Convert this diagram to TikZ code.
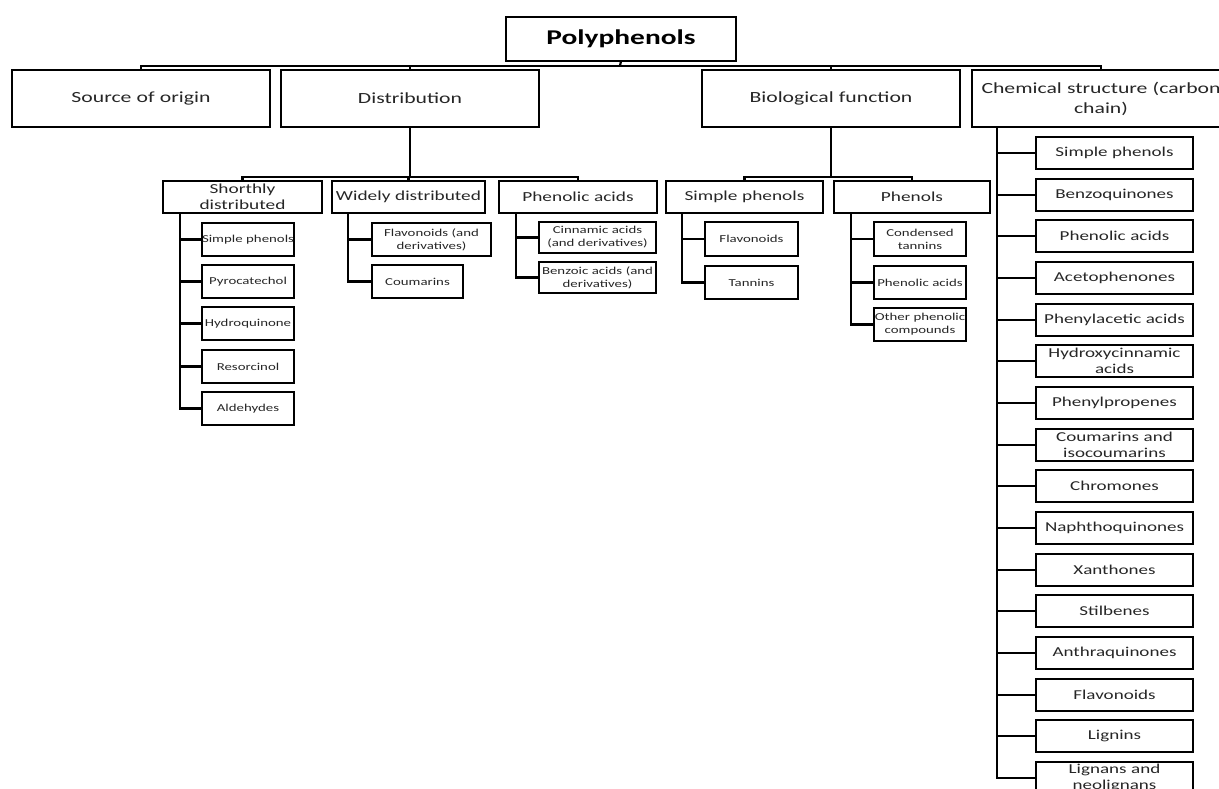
\documentclass[tikz,border=0pt]{standalone}
\usepackage{fontspec}
\setmainfont{Carlito}[FakeStretch=1.4]

\begin{document}
\begin{tikzpicture}[x=1pt,y=-1pt,
			ln/.style={draw=black,line width=2.2pt},
			bx/.style={draw=black,line width=2.2pt,text=black!85,inner sep=0pt,outer sep=0pt,align=center,anchor=north west},
			root/.style={bx,text=black,text width=230pt,minimum height=44pt,font=\fontsize{21}{25}\selectfont\bfseries},
			cat/.style={bx,text width=258pt,minimum height=57pt,font=\fontsize{15.5}{20}\selectfont},
			grp/.style={bx,minimum height=32pt,font=\fontsize{13.8}{16}\selectfont},
			leaf/.style={bx,minimum height=33pt,font=\fontsize{10.6}{12.9}\selectfont},
			chm/.style={bx,text width=157pt,minimum height=32pt,font=\fontsize{13.6}{16}\selectfont}]
			\useasboundingbox (0,0) rectangle (1219,789);
			\clip (0,0) rectangle (1219,789);
			% top
			\node[root] (poly) at (506,17) {Polyphenols};
			\node[cat] (src) at (12,70) {Source of origin};
			\node[cat] (dist) at (281,70) {Distribution};
			\node[cat] (bio) at (702,70) {Biological function};
			\node[cat] (chem) at (972,70) {Chemical structure (carbon\\chain)};
			\coordinate (b1) at (620,66);
			\draw[ln] (poly.south) -- (b1);
			\draw[ln] (src.north) |- (b1) -| (chem.north);
			\draw[ln] (dist.north) -- (dist.north |- b1);
			\draw[ln] (bio.north) -- (bio.north |- b1);
			% distribution
			\node[grp,text width=159pt] (shd) at (163,181) {Shorthly\\distributed};
			\node[grp,text width=153pt] (wid) at (332,181) {Widely distributed};
			\node[grp,text width=158pt] (pha) at (499,181) {Phenolic acids};
			\coordinate (b2) at (410,177);
			\draw[ln] (dist.south) -- (b2);
			\draw[ln] (shd.north) |- (b2) -| (pha.north);
			\draw[ln] (wid.north) -- (wid.north |- b2);
			% biological function
			\node[grp,text width=157pt] (smp) at (666,181) {Simple phenols};
			\node[grp,text width=156pt] (phe) at (834,181) {Phenols};
			\coordinate (b3) at (831,177);
			\draw[ln] (bio.south) -- (b3);
			\draw[ln] (smp.north) |- (b3) -| (phe.north);
			% shorthly distributed
			\node[leaf,text width=92pt] (sd1) at (202,223) {\mbox{Simple phenols}};
			\node[leaf,text width=92pt] (sd2) at (202,265) {Pyrocatechol};
			\node[leaf,text width=92pt] (sd3) at (202,307) {Hydroquinone};
			\node[leaf,text width=92pt] (sd4) at (202,350) {Resorcinol};
			\node[leaf,text width=92pt] (sd5) at (202,392) {Aldehydes};
			\draw[ln] ([xshift=17pt]shd.south west) |- (sd1.west);
			\draw[ln] ([xshift=17pt]shd.south west) |- (sd2.west);
			\draw[ln] ([xshift=17pt]shd.south west) |- (sd3.west);
			\draw[ln] ([xshift=17pt]shd.south west) |- (sd4.west);
			\draw[ln] ([xshift=17pt]shd.south west) |- (sd5.west);
			% widely distributed
			\node[leaf,text width=119pt] (wd1) at (372,223) {Flavonoids (and\\derivatives)};
			\node[leaf,text width=91pt] (wd2) at (372,265) {Coumarins};
			\draw[ln] ([xshift=16pt]wid.south west) |- (wd1.west);
			\draw[ln] ([xshift=16pt]wid.south west) |- (wd2.west);
			% phenolic acids
			\node[leaf,text width=117pt,minimum height=31pt] (pa1) at (539,222) {Cinnamic acids\\(and derivatives)};
			\node[leaf,text width=117pt,minimum height=31pt] (pa2) at (539,262) {Benzoic acids (and\\derivatives)};
			\draw[ln] ([xshift=17pt]pha.south west) |- (pa1.west);
			\draw[ln] ([xshift=17pt]pha.south west) |- (pa2.west);
			% simple phenols
			\node[leaf,text width=93pt,minimum height=34pt] (sp1) at (705,222) {Flavonoids};
			\node[leaf,text width=93pt] (sp2) at (705,266) {Tannins};
			\draw[ln] ([xshift=16pt]smp.south west) |- (sp1.west);
			\draw[ln] ([xshift=16pt]smp.south west) |- (sp2.west);
			% phenols
			\node[leaf,text width=92pt,minimum height=34pt] (ph1) at (874,222) {Condensed\\tannins};
			\node[leaf,text width=92pt] (ph2) at (874,266) {Phenolic acids};
			\node[leaf,text width=92pt] (ph3) at (874,308) {Other phenolic\\compounds};
			\draw[ln] ([xshift=17pt]phe.south west) |- (ph1.west);
			\draw[ln] ([xshift=17pt]phe.south west) |- (ph2.west);
			\draw[ln] ([xshift=17pt]phe.south west) |- (ph3.west);
			% chemical structure
			\node[chm] (cs1) at (1036,137) {Simple phenols};
			\node[chm] (cs2) at (1036,178.7) {Benzoquinones};
			\node[chm] (cs3) at (1036,220.3) {Phenolic acids};
			\node[chm] (cs4) at (1036,262) {Acetophenones};
			\node[chm] (cs5) at (1036,303.7) {Phenylacetic acids};
			\node[chm] (cs6) at (1036,345.3) {Hydroxycinnamic\\acids};
			\node[chm] (cs7) at (1036,387) {Phenylpropenes};
			\node[chm] (cs8) at (1036,428.7) {Coumarins and\\isocoumarins};
			\node[chm] (cs9) at (1036,470.3) {Chromones};
			\node[chm] (cs10) at (1036,512) {Naphthoquinones};
			\node[chm] (cs11) at (1036,553.7) {Xanthones};
			\node[chm] (cs12) at (1036,595.3) {Stilbenes};
			\node[chm] (cs13) at (1036,637) {Anthraquinones};
			\node[chm] (cs14) at (1036,678.7) {Flavonoids};
			\node[chm] (cs15) at (1036,720.3) {Lignins};
			\node[chm] (cs16) at (1036,762) {Lignans and\\neolignans};
			\draw[ln] ([xshift=25pt]chem.south west) |- (cs1.west);
			\draw[ln] ([xshift=25pt]chem.south west) |- (cs2.west);
			\draw[ln] ([xshift=25pt]chem.south west) |- (cs3.west);
			\draw[ln] ([xshift=25pt]chem.south west) |- (cs4.west);
			\draw[ln] ([xshift=25pt]chem.south west) |- (cs5.west);
			\draw[ln] ([xshift=25pt]chem.south west) |- (cs6.west);
			\draw[ln] ([xshift=25pt]chem.south west) |- (cs7.west);
			\draw[ln] ([xshift=25pt]chem.south west) |- (cs8.west);
			\draw[ln] ([xshift=25pt]chem.south west) |- (cs9.west);
			\draw[ln] ([xshift=25pt]chem.south west) |- (cs10.west);
			\draw[ln] ([xshift=25pt]chem.south west) |- (cs11.west);
			\draw[ln] ([xshift=25pt]chem.south west) |- (cs12.west);
			\draw[ln] ([xshift=25pt]chem.south west) |- (cs13.west);
			\draw[ln] ([xshift=25pt]chem.south west) |- (cs14.west);
			\draw[ln] ([xshift=25pt]chem.south west) |- (cs15.west);
			\draw[ln] ([xshift=25pt]chem.south west) |- (cs16.west);
		\end{tikzpicture}
\end{document}
